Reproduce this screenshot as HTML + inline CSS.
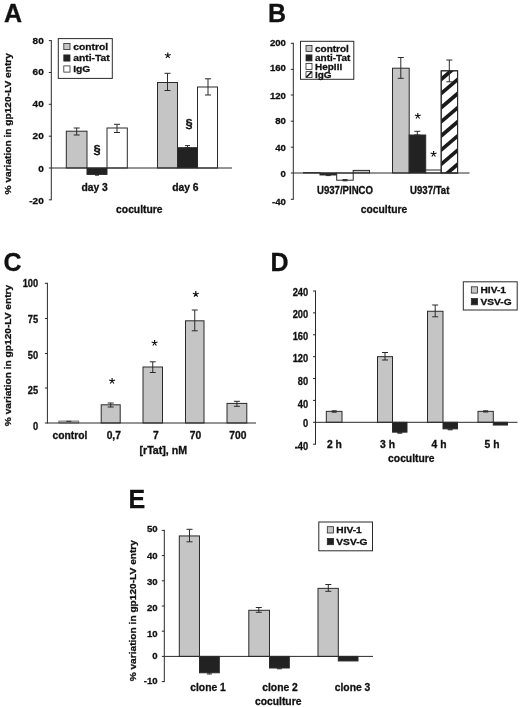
<!DOCTYPE html>
<html><head><meta charset="utf-8"><title>Figure</title>
<style>
html,body{margin:0;padding:0;background:#fff;}
body{width:520px;height:707px;overflow:hidden;}
svg{display:block;filter:blur(0.3px);}
svg text{font-family:"Liberation Sans",sans-serif;font-weight:bold;fill:#111;stroke:#111;stroke-width:0.3px;}
</style></head><body>
<svg width="520" height="707" viewBox="0 0 520 707">
<rect width="520" height="707" fill="#fff"/>
<text x="4.0" y="22.20" font-size="25" text-anchor="start" stroke="#111" stroke-width="0.7">A</text>
<line x1="51.3" y1="40.1" x2="51.3" y2="200.3" stroke="#2a2a2a" stroke-width="1"/>
<line x1="48.8" y1="40.6" x2="51.3" y2="40.6" stroke="#2a2a2a" stroke-width="1"/>
<text transform="translate(43.7,43.70) scale(1,0.92)" font-size="10" text-anchor="end" >80</text>
<line x1="48.8" y1="72.5" x2="51.3" y2="72.5" stroke="#2a2a2a" stroke-width="1"/>
<text transform="translate(43.7,74.60) scale(1,0.92)" font-size="10" text-anchor="end" >60</text>
<line x1="48.8" y1="104.3" x2="51.3" y2="104.3" stroke="#2a2a2a" stroke-width="1"/>
<text transform="translate(43.7,106.90) scale(1,0.92)" font-size="10" text-anchor="end" >40</text>
<line x1="48.8" y1="136.2" x2="51.3" y2="136.2" stroke="#2a2a2a" stroke-width="1"/>
<text transform="translate(43.7,138.80) scale(1,0.92)" font-size="10" text-anchor="end" >20</text>
<line x1="48.8" y1="168" x2="51.3" y2="168" stroke="#2a2a2a" stroke-width="1"/>
<text transform="translate(43.7,172.10) scale(1,0.92)" font-size="10" text-anchor="end" >0</text>
<line x1="48.8" y1="199.8" x2="51.3" y2="199.8" stroke="#2a2a2a" stroke-width="1"/>
<text transform="translate(43.7,204.10) scale(1,0.92)" font-size="10" text-anchor="end" >-20</text>
<rect x="66.30" y="131.20" width="20.70" height="36.80" fill="#c5c5c5" stroke="#2a2a2a" stroke-width="1"/>
<rect x="87.00" y="168.00" width="20.00" height="6.40" fill="#222" stroke="#2a2a2a" stroke-width="1"/>
<rect x="107.00" y="128.00" width="20.30" height="40.00" fill="#fff" stroke="#2a2a2a" stroke-width="1"/>
<line x1="76.7" y1="128" x2="76.7" y2="135" stroke="#2a2a2a" stroke-width="1"/>
<line x1="73.7" y1="128" x2="79.7" y2="128" stroke="#2a2a2a" stroke-width="1"/>
<line x1="73.7" y1="135" x2="79.7" y2="135" stroke="#2a2a2a" stroke-width="1"/>
<line x1="117" y1="124.3" x2="117" y2="132.5" stroke="#2a2a2a" stroke-width="1"/>
<line x1="114" y1="124.3" x2="120" y2="124.3" stroke="#2a2a2a" stroke-width="1"/>
<line x1="114" y1="132.5" x2="120" y2="132.5" stroke="#2a2a2a" stroke-width="1"/>
<line x1="97" y1="174.4" x2="97" y2="175.2" stroke="#2a2a2a" stroke-width="1"/>
<line x1="95" y1="174.4" x2="99" y2="174.4" stroke="#2a2a2a" stroke-width="1"/>
<line x1="95" y1="175.2" x2="99" y2="175.2" stroke="#2a2a2a" stroke-width="1"/>
<rect x="157.50" y="82.50" width="20.00" height="85.50" fill="#c5c5c5" stroke="#2a2a2a" stroke-width="1"/>
<rect x="177.50" y="147.70" width="20.00" height="20.30" fill="#222" stroke="#2a2a2a" stroke-width="1"/>
<rect x="197.50" y="87.00" width="20.00" height="81.00" fill="#fff" stroke="#2a2a2a" stroke-width="1"/>
<line x1="167.5" y1="73.3" x2="167.5" y2="90.5" stroke="#2a2a2a" stroke-width="1"/>
<line x1="164.5" y1="73.3" x2="170.5" y2="73.3" stroke="#2a2a2a" stroke-width="1"/>
<line x1="164.5" y1="90.5" x2="170.5" y2="90.5" stroke="#2a2a2a" stroke-width="1"/>
<line x1="208" y1="78.8" x2="208" y2="95" stroke="#2a2a2a" stroke-width="1"/>
<line x1="205" y1="78.8" x2="211" y2="78.8" stroke="#2a2a2a" stroke-width="1"/>
<line x1="205" y1="95" x2="211" y2="95" stroke="#2a2a2a" stroke-width="1"/>
<line x1="187.5" y1="145.6" x2="187.5" y2="147.7" stroke="#2a2a2a" stroke-width="1"/>
<line x1="185.0" y1="145.6" x2="190.0" y2="145.6" stroke="#2a2a2a" stroke-width="1"/>
<line x1="185.0" y1="147.7" x2="190.0" y2="147.7" stroke="#2a2a2a" stroke-width="1"/>
<line x1="51.3" y1="168" x2="232" y2="168" stroke="#2a2a2a" stroke-width="1"/>
<path d="M167.80,55.50L167.80,52.40M167.80,55.50L170.75,54.54M167.80,55.50L169.62,58.01M167.80,55.50L165.98,58.01M167.80,55.50L164.85,54.54" stroke="#111" stroke-width="1.15" fill="none" stroke-linecap="butt"/>
<text transform="translate(97,153.50) scale(0.92,0.92)" font-size="14" text-anchor="middle" stroke="none">§</text>
<text transform="translate(189,128.30) scale(0.92,0.92)" font-size="14" text-anchor="middle" stroke="none">§</text>
<text x="94.7" y="190.70" font-size="10.3" text-anchor="middle" >day 3</text>
<text x="185.3" y="190.70" font-size="10.3" text-anchor="middle" >day 6</text>
<text x="139.3" y="213.00" font-size="10.3" text-anchor="middle" >coculture</text>
<text transform="translate(11.2,123.8) rotate(-90) scale(1,0.93)" font-size="10.15" text-anchor="middle" >% variation in gp120-LV entry</text>
<rect x="58.30" y="38.60" width="54.00" height="39.80" fill="#fff" stroke="#2a2a2a" stroke-width="1"/>
<rect x="63.80" y="43.40" width="6.20" height="6.20" fill="#c5c5c5" stroke="#2a2a2a" stroke-width="0.8"/>
<text transform="translate(73.2,49.60) scale(1.03,0.92)" font-size="10" text-anchor="start" >control</text>
<rect x="63.80" y="54.90" width="6.20" height="6.20" fill="#222" stroke="#2a2a2a" stroke-width="0.8"/>
<text transform="translate(73.2,61.10) scale(1.03,0.92)" font-size="10" text-anchor="start" >anti-Tat</text>
<rect x="63.80" y="65.90" width="6.20" height="6.20" fill="#fff" stroke="#2a2a2a" stroke-width="0.8"/>
<text transform="translate(73.2,72.10) scale(1.03,0.92)" font-size="10" text-anchor="start" >IgG</text>
<text x="268" y="22.20" font-size="25" text-anchor="start" stroke="#111" stroke-width="0.7">B</text>
<line x1="293.3" y1="42.8" x2="293.3" y2="199.8" stroke="#2a2a2a" stroke-width="1"/>
<line x1="290.8" y1="43.3" x2="293.3" y2="43.3" stroke="#2a2a2a" stroke-width="1"/>
<text transform="translate(285.9,45.60) scale(0.96,0.92)" font-size="10" text-anchor="end" >200</text>
<line x1="290.8" y1="69.4" x2="293.3" y2="69.4" stroke="#2a2a2a" stroke-width="1"/>
<text transform="translate(285.9,71.45) scale(0.96,0.92)" font-size="10" text-anchor="end" >160</text>
<line x1="290.8" y1="95" x2="293.3" y2="95" stroke="#2a2a2a" stroke-width="1"/>
<text transform="translate(285.9,98.60) scale(0.96,0.92)" font-size="10" text-anchor="end" >120</text>
<line x1="290.8" y1="121.2" x2="293.3" y2="121.2" stroke="#2a2a2a" stroke-width="1"/>
<text transform="translate(285.9,124.45) scale(0.96,0.92)" font-size="10" text-anchor="end" >80</text>
<line x1="290.8" y1="147.2" x2="293.3" y2="147.2" stroke="#2a2a2a" stroke-width="1"/>
<text transform="translate(285.9,150.60) scale(0.96,0.92)" font-size="10" text-anchor="end" >40</text>
<line x1="290.8" y1="173" x2="293.3" y2="173" stroke="#2a2a2a" stroke-width="1"/>
<text transform="translate(285.9,176.65) scale(0.96,0.92)" font-size="10" text-anchor="end" >0</text>
<line x1="290.8" y1="199.3" x2="293.3" y2="199.3" stroke="#2a2a2a" stroke-width="1"/>
<text transform="translate(285.9,204.50) scale(0.96,0.92)" font-size="10" text-anchor="end" >-40</text>
<rect x="303.50" y="172.60" width="16.50" height="0.40" fill="#c5c5c5" stroke="#2a2a2a" stroke-width="1"/>
<rect x="320.00" y="173.00" width="16.70" height="1.97" fill="#222" stroke="#2a2a2a" stroke-width="1"/>
<rect x="336.70" y="173.00" width="16.50" height="7.21" fill="#fff" stroke="#2a2a2a" stroke-width="1"/>
<rect x="353.20" y="170.38" width="16.30" height="2.62" fill="#c5c5c5" stroke="#2a2a2a" stroke-width="1"/>
<line x1="328.3" y1="174.6" x2="328.3" y2="175.6" stroke="#2a2a2a" stroke-width="1"/>
<line x1="325.8" y1="174.6" x2="330.8" y2="174.6" stroke="#2a2a2a" stroke-width="1"/>
<line x1="325.8" y1="175.6" x2="330.8" y2="175.6" stroke="#2a2a2a" stroke-width="1"/>
<line x1="345" y1="179.6" x2="345" y2="180.8" stroke="#2a2a2a" stroke-width="1"/>
<line x1="342.5" y1="179.6" x2="347.5" y2="179.6" stroke="#2a2a2a" stroke-width="1"/>
<line x1="342.5" y1="180.8" x2="347.5" y2="180.8" stroke="#2a2a2a" stroke-width="1"/>
<rect x="392.50" y="68.20" width="16.70" height="104.80" fill="#c5c5c5" stroke="#2a2a2a" stroke-width="1"/>
<rect x="409.20" y="135.00" width="16.50" height="38.00" fill="#222" stroke="#2a2a2a" stroke-width="1"/>
<rect x="425.70" y="170.00" width="15.50" height="3.00" fill="#fff" stroke="#2a2a2a" stroke-width="1"/>
<rect x="441.20" y="70.80" width="16.40" height="102.20" fill="#fff" stroke="#2a2a2a" stroke-width="1"/>
<clipPath id="hc"><rect x="441.2" y="70.8" width="16.4" height="102.2"/></clipPath><g clip-path="url(#hc)" stroke="#1a1a1a" stroke-width="3.7">
<line x1="432.9" y1="72.23" x2="466.1" y2="43.95"/>
<line x1="432.9" y1="86.37" x2="466.1" y2="58.09"/>
<line x1="432.9" y1="100.51" x2="466.1" y2="72.23"/>
<line x1="432.9" y1="114.65" x2="466.1" y2="86.37"/>
<line x1="432.9" y1="128.79" x2="466.1" y2="100.51"/>
<line x1="432.9" y1="142.93" x2="466.1" y2="114.65"/>
<line x1="432.9" y1="157.07" x2="466.1" y2="128.79"/>
<line x1="432.9" y1="171.21" x2="466.1" y2="142.93"/>
<line x1="432.9" y1="185.35" x2="466.1" y2="157.07"/>
<line x1="432.9" y1="199.49" x2="466.1" y2="171.21"/>
</g>
<rect x="441.20" y="70.80" width="16.40" height="102.20" fill="none" stroke="#2a2a2a" stroke-width="1"/>
<line x1="400.8" y1="57.5" x2="400.8" y2="78.3" stroke="#2a2a2a" stroke-width="1"/>
<line x1="397.8" y1="57.5" x2="403.8" y2="57.5" stroke="#2a2a2a" stroke-width="1"/>
<line x1="397.8" y1="78.3" x2="403.8" y2="78.3" stroke="#2a2a2a" stroke-width="1"/>
<line x1="449.3" y1="60" x2="449.3" y2="81.8" stroke="#2a2a2a" stroke-width="1"/>
<line x1="446.3" y1="60" x2="452.3" y2="60" stroke="#2a2a2a" stroke-width="1"/>
<line x1="446.3" y1="81.8" x2="452.3" y2="81.8" stroke="#2a2a2a" stroke-width="1"/>
<line x1="417.3" y1="131.3" x2="417.3" y2="135" stroke="#2a2a2a" stroke-width="1"/>
<line x1="414.3" y1="131.3" x2="420.3" y2="131.3" stroke="#2a2a2a" stroke-width="1"/>
<line x1="414.3" y1="135" x2="420.3" y2="135" stroke="#2a2a2a" stroke-width="1"/>
<line x1="293.3" y1="173" x2="469.5" y2="173" stroke="#2a2a2a" stroke-width="1"/>
<path d="M417.80,116.00L417.80,112.90M417.80,116.00L420.75,115.04M417.80,116.00L419.62,118.51M417.80,116.00L415.98,118.51M417.80,116.00L414.85,115.04" stroke="#111" stroke-width="1.15" fill="none" stroke-linecap="butt"/>
<path d="M433.60,154.00L433.60,150.90M433.60,154.00L436.55,153.04M433.60,154.00L435.42,156.51M433.60,154.00L431.78,156.51M433.60,154.00L430.65,153.04" stroke="#111" stroke-width="1.15" fill="none" stroke-linecap="butt"/>
<text transform="translate(345,193.80) scale(0.96,1)" font-size="10" text-anchor="middle" >U937/PINCO</text>
<text transform="translate(429.7,193.80) scale(0.96,1)" font-size="10" text-anchor="middle" >U937/Tat</text>
<text x="384" y="213.00" font-size="10.3" text-anchor="middle" >coculture</text>
<rect x="300.50" y="41.30" width="53.30" height="38.00" fill="#fff" stroke="#2a2a2a" stroke-width="1"/>
<rect x="306.00" y="45.50" width="6.00" height="6.00" fill="#c5c5c5" stroke="#2a2a2a" stroke-width="0.8"/>
<text transform="translate(315,51.50) scale(1.0,0.9)" font-size="10" text-anchor="start" >control</text>
<rect x="306.00" y="54.90" width="6.00" height="6.00" fill="#222" stroke="#2a2a2a" stroke-width="0.8"/>
<text transform="translate(315,60.90) scale(1.0,0.9)" font-size="10" text-anchor="start" >anti-Tat</text>
<rect x="306.00" y="63.50" width="6.00" height="6.00" fill="#fff" stroke="#2a2a2a" stroke-width="0.8"/>
<text transform="translate(315,69.50) scale(1.0,0.9)" font-size="10" text-anchor="start" >HepIII</text>
<rect x="306.00" y="71.60" width="6.00" height="6.00" fill="#fff" stroke="#2a2a2a" stroke-width="0.8"/>
<line x1="306.3" y1="77.3" x2="311.7" y2="71.89999999999999" stroke="#1a1a1a" stroke-width="1.6"/>
<text transform="translate(315,77.60) scale(1.0,0.9)" font-size="10" text-anchor="start" >IgG</text>
<text x="3.5" y="271.40" font-size="25" text-anchor="start" stroke="#111" stroke-width="0.7">C</text>
<line x1="47.4" y1="282.8" x2="47.4" y2="423.5" stroke="#2a2a2a" stroke-width="1"/>
<line x1="44.9" y1="283.3" x2="47.4" y2="283.3" stroke="#2a2a2a" stroke-width="1"/>
<text transform="translate(38.2,287.40) scale(0.93,1)" font-size="10" text-anchor="end" >100</text>
<line x1="44.9" y1="318.5" x2="47.4" y2="318.5" stroke="#2a2a2a" stroke-width="1"/>
<text transform="translate(38.2,323.40) scale(0.93,1)" font-size="10" text-anchor="end" >75</text>
<line x1="44.9" y1="353.5" x2="47.4" y2="353.5" stroke="#2a2a2a" stroke-width="1"/>
<text transform="translate(38.2,359.10) scale(0.93,1)" font-size="10" text-anchor="end" >50</text>
<line x1="44.9" y1="388" x2="47.4" y2="388" stroke="#2a2a2a" stroke-width="1"/>
<text transform="translate(38.2,394.20) scale(0.93,1)" font-size="10" text-anchor="end" >25</text>
<line x1="44.9" y1="423" x2="47.4" y2="423" stroke="#2a2a2a" stroke-width="1"/>
<text transform="translate(38.2,430.10) scale(0.93,1)" font-size="10" text-anchor="end" >0</text>
<rect x="58.80" y="421.00" width="20.00" height="2.00" fill="#c5c5c5" stroke="#555" stroke-width="0.7"/>
<line x1="66.3" y1="421.3" x2="71.3" y2="421.3" stroke="#2a2a2a" stroke-width="1"/>
<rect x="101.20" y="404.80" width="19.00" height="18.20" fill="#c5c5c5" stroke="#2a2a2a" stroke-width="1"/>
<line x1="110.7" y1="403" x2="110.7" y2="407" stroke="#2a2a2a" stroke-width="1"/>
<line x1="107.7" y1="403" x2="113.7" y2="403" stroke="#2a2a2a" stroke-width="1"/>
<line x1="107.7" y1="407" x2="113.7" y2="407" stroke="#2a2a2a" stroke-width="1"/>
<rect x="143.00" y="367.00" width="19.50" height="56.00" fill="#c5c5c5" stroke="#2a2a2a" stroke-width="1"/>
<line x1="152.75" y1="361.8" x2="152.75" y2="372.5" stroke="#2a2a2a" stroke-width="1"/>
<line x1="149.75" y1="361.8" x2="155.75" y2="361.8" stroke="#2a2a2a" stroke-width="1"/>
<line x1="149.75" y1="372.5" x2="155.75" y2="372.5" stroke="#2a2a2a" stroke-width="1"/>
<rect x="185.50" y="320.80" width="18.50" height="102.20" fill="#c5c5c5" stroke="#2a2a2a" stroke-width="1"/>
<line x1="194.75" y1="310" x2="194.75" y2="330.8" stroke="#2a2a2a" stroke-width="1"/>
<line x1="191.75" y1="310" x2="197.75" y2="310" stroke="#2a2a2a" stroke-width="1"/>
<line x1="191.75" y1="330.8" x2="197.75" y2="330.8" stroke="#2a2a2a" stroke-width="1"/>
<rect x="227.00" y="403.40" width="19.80" height="19.60" fill="#c5c5c5" stroke="#2a2a2a" stroke-width="1"/>
<line x1="236.9" y1="401.3" x2="236.9" y2="406.3" stroke="#2a2a2a" stroke-width="1"/>
<line x1="233.9" y1="401.3" x2="239.9" y2="401.3" stroke="#2a2a2a" stroke-width="1"/>
<line x1="233.9" y1="406.3" x2="239.9" y2="406.3" stroke="#2a2a2a" stroke-width="1"/>
<line x1="47.4" y1="423" x2="256" y2="423" stroke="#2a2a2a" stroke-width="1"/>
<path d="M112.10,381.00L112.10,377.90M112.10,381.00L115.05,380.04M112.10,381.00L113.92,383.51M112.10,381.00L110.28,383.51M112.10,381.00L109.15,380.04" stroke="#111" stroke-width="1.15" fill="none" stroke-linecap="butt"/>
<path d="M154.60,343.00L154.60,339.90M154.60,343.00L157.55,342.04M154.60,343.00L156.42,345.51M154.60,343.00L152.78,345.51M154.60,343.00L151.65,342.04" stroke="#111" stroke-width="1.15" fill="none" stroke-linecap="butt"/>
<path d="M195.80,294.20L195.80,291.10M195.80,294.20L198.75,293.24M195.80,294.20L197.62,296.71M195.80,294.20L193.98,296.71M195.80,294.20L192.85,293.24" stroke="#111" stroke-width="1.15" fill="none" stroke-linecap="butt"/>
<text x="70" y="438.80" font-size="10.3" text-anchor="middle" >control</text>
<text x="113.8" y="438.80" font-size="10.3" text-anchor="middle" >0,7</text>
<text x="155.8" y="438.80" font-size="10.3" text-anchor="middle" >7</text>
<text x="195.6" y="438.80" font-size="10.3" text-anchor="middle" >70</text>
<text x="237.8" y="438.80" font-size="10.3" text-anchor="middle" >700</text>
<text transform="translate(163.3,454.30) scale(1.035,1)" font-size="10.3" text-anchor="middle" >[rTat], nM</text>
<text transform="translate(11.2,355.5) rotate(-90) scale(1,0.93)" font-size="10.15" text-anchor="middle" >% variation in gp120-LV entry</text>
<text x="270.6" y="271.40" font-size="25" text-anchor="start" stroke="#111" stroke-width="0.7">D</text>
<line x1="315.5" y1="290.52" x2="315.5" y2="444.68" stroke="#2a2a2a" stroke-width="1"/>
<line x1="313.0" y1="291.02" x2="315.5" y2="291.02" stroke="#2a2a2a" stroke-width="1"/>
<text transform="translate(308.2,295.72) scale(0.93,1)" font-size="10" text-anchor="end" >240</text>
<line x1="313.0" y1="312.9" x2="315.5" y2="312.9" stroke="#2a2a2a" stroke-width="1"/>
<text transform="translate(308.2,317.70) scale(0.93,1)" font-size="10" text-anchor="end" >200</text>
<line x1="313.0" y1="334.78" x2="315.5" y2="334.78" stroke="#2a2a2a" stroke-width="1"/>
<text transform="translate(308.2,340.38) scale(0.93,1)" font-size="10" text-anchor="end" >160</text>
<line x1="313.0" y1="356.66" x2="315.5" y2="356.66" stroke="#2a2a2a" stroke-width="1"/>
<text transform="translate(308.2,362.46) scale(0.93,1)" font-size="10" text-anchor="end" >120</text>
<line x1="313.0" y1="378.54" x2="315.5" y2="378.54" stroke="#2a2a2a" stroke-width="1"/>
<text transform="translate(308.2,385.14) scale(0.93,1)" font-size="10" text-anchor="end" >80</text>
<line x1="313.0" y1="400.42" x2="315.5" y2="400.42" stroke="#2a2a2a" stroke-width="1"/>
<text transform="translate(308.2,407.82) scale(0.93,1)" font-size="10" text-anchor="end" >40</text>
<line x1="313.0" y1="422.3" x2="315.5" y2="422.3" stroke="#2a2a2a" stroke-width="1"/>
<text transform="translate(308.2,427.00) scale(0.93,1)" font-size="10" text-anchor="end" >0</text>
<line x1="313.0" y1="444.18" x2="315.5" y2="444.18" stroke="#2a2a2a" stroke-width="1"/>
<text transform="translate(308.2,449.68) scale(0.93,1)" font-size="10" text-anchor="end" >-40</text>
<rect x="326.30" y="411.36" width="15.70" height="10.94" fill="#c5c5c5" stroke="#2a2a2a" stroke-width="1"/>
<line x1="334.2" y1="410.8" x2="334.2" y2="412.2" stroke="#2a2a2a" stroke-width="1"/>
<line x1="331.7" y1="410.8" x2="336.7" y2="410.8" stroke="#2a2a2a" stroke-width="1"/>
<line x1="331.7" y1="412.2" x2="336.7" y2="412.2" stroke="#2a2a2a" stroke-width="1"/>
<rect x="377.50" y="356.66" width="15.00" height="65.64" fill="#c5c5c5" stroke="#2a2a2a" stroke-width="1"/>
<line x1="385" y1="352.5" x2="385" y2="360" stroke="#2a2a2a" stroke-width="1"/>
<line x1="382" y1="352.5" x2="388" y2="352.5" stroke="#2a2a2a" stroke-width="1"/>
<line x1="382" y1="360" x2="388" y2="360" stroke="#2a2a2a" stroke-width="1"/>
<rect x="392.50" y="422.30" width="14.50" height="9.85" fill="#222" stroke="#2a2a2a" stroke-width="1"/>
<line x1="399.8" y1="432.3" x2="399.8" y2="433.2" stroke="#2a2a2a" stroke-width="1"/>
<line x1="397.3" y1="432.3" x2="402.3" y2="432.3" stroke="#2a2a2a" stroke-width="1"/>
<line x1="397.3" y1="433.2" x2="402.3" y2="433.2" stroke="#2a2a2a" stroke-width="1"/>
<rect x="427.50" y="311.26" width="15.50" height="111.04" fill="#c5c5c5" stroke="#2a2a2a" stroke-width="1"/>
<line x1="435.2" y1="305" x2="435.2" y2="316.8" stroke="#2a2a2a" stroke-width="1"/>
<line x1="432.2" y1="305" x2="438.2" y2="305" stroke="#2a2a2a" stroke-width="1"/>
<line x1="432.2" y1="316.8" x2="438.2" y2="316.8" stroke="#2a2a2a" stroke-width="1"/>
<rect x="443.00" y="422.30" width="14.50" height="6.56" fill="#222" stroke="#2a2a2a" stroke-width="1"/>
<line x1="450.2" y1="429" x2="450.2" y2="429.8" stroke="#2a2a2a" stroke-width="1"/>
<line x1="447.7" y1="429" x2="452.7" y2="429" stroke="#2a2a2a" stroke-width="1"/>
<line x1="447.7" y1="429.8" x2="452.7" y2="429.8" stroke="#2a2a2a" stroke-width="1"/>
<rect x="478.00" y="411.36" width="15.30" height="10.94" fill="#c5c5c5" stroke="#2a2a2a" stroke-width="1"/>
<line x1="485.6" y1="410.8" x2="485.6" y2="412" stroke="#2a2a2a" stroke-width="1"/>
<line x1="483.1" y1="410.8" x2="488.1" y2="410.8" stroke="#2a2a2a" stroke-width="1"/>
<line x1="483.1" y1="412" x2="488.1" y2="412" stroke="#2a2a2a" stroke-width="1"/>
<rect x="493.30" y="422.30" width="14.20" height="2.74" fill="#222" stroke="#2a2a2a" stroke-width="1"/>
<line x1="315.5" y1="422.3" x2="517.5" y2="422.3" stroke="#2a2a2a" stroke-width="1"/>
<text x="334.4" y="447.50" font-size="10.3" text-anchor="middle" >2 h</text>
<text x="387.5" y="447.50" font-size="10.3" text-anchor="middle" >3 h</text>
<text x="439" y="447.50" font-size="10.3" text-anchor="middle" >4 h</text>
<text x="492" y="447.50" font-size="10.3" text-anchor="middle" >5 h</text>
<text x="411.3" y="462.00" font-size="10.3" text-anchor="middle" >coculture</text>
<rect x="463.30" y="281.80" width="53.90" height="28.20" fill="#fff" stroke="#2a2a2a" stroke-width="1"/>
<rect x="471.30" y="286.80" width="6.30" height="6.30" fill="#c5c5c5" stroke="#2a2a2a" stroke-width="0.8"/>
<text transform="translate(480.5,293.00) scale(1.02,0.92)" font-size="10" text-anchor="start" >HIV-1</text>
<rect x="471.30" y="298.50" width="6.30" height="6.30" fill="#222" stroke="#2a2a2a" stroke-width="0.8"/>
<text transform="translate(480.5,304.70) scale(1.02,0.92)" font-size="10" text-anchor="start" >VSV-G</text>
<text x="128.5" y="508.00" font-size="25" text-anchor="start" stroke="#111" stroke-width="0.7">E</text>
<line x1="164.3" y1="529.9" x2="164.3" y2="682.1" stroke="#2a2a2a" stroke-width="1"/>
<line x1="161.8" y1="530.4" x2="164.3" y2="530.4" stroke="#2a2a2a" stroke-width="1"/>
<text transform="translate(157.7,532.10) scale(0.96,0.87)" font-size="10" text-anchor="end" >50</text>
<line x1="161.8" y1="555.6" x2="164.3" y2="555.6" stroke="#2a2a2a" stroke-width="1"/>
<text transform="translate(157.7,558.65) scale(0.96,0.87)" font-size="10" text-anchor="end" >40</text>
<line x1="161.8" y1="580.8" x2="164.3" y2="580.8" stroke="#2a2a2a" stroke-width="1"/>
<text transform="translate(157.7,584.60) scale(0.96,0.87)" font-size="10" text-anchor="end" >30</text>
<line x1="161.8" y1="606.0" x2="164.3" y2="606.0" stroke="#2a2a2a" stroke-width="1"/>
<text transform="translate(157.7,610.60) scale(0.96,0.87)" font-size="10" text-anchor="end" >20</text>
<line x1="161.8" y1="631.1999999999999" x2="164.3" y2="631.1999999999999" stroke="#2a2a2a" stroke-width="1"/>
<text transform="translate(157.7,636.80) scale(0.96,0.87)" font-size="10" text-anchor="end" >10</text>
<line x1="161.8" y1="656.4" x2="164.3" y2="656.4" stroke="#2a2a2a" stroke-width="1"/>
<text transform="translate(157.7,659.40) scale(0.96,0.87)" font-size="10" text-anchor="end" >0</text>
<line x1="161.8" y1="681.6" x2="164.3" y2="681.6" stroke="#2a2a2a" stroke-width="1"/>
<text transform="translate(157.7,684.20) scale(0.96,0.87)" font-size="10" text-anchor="end" >-10</text>
<rect x="179.30" y="535.94" width="20.20" height="120.46" fill="#c5c5c5" stroke="#2a2a2a" stroke-width="1"/>
<line x1="189.5" y1="529.3" x2="189.5" y2="541.8" stroke="#2a2a2a" stroke-width="1"/>
<line x1="186.5" y1="529.3" x2="192.5" y2="529.3" stroke="#2a2a2a" stroke-width="1"/>
<line x1="186.5" y1="541.8" x2="192.5" y2="541.8" stroke="#2a2a2a" stroke-width="1"/>
<rect x="199.50" y="656.40" width="19.80" height="16.38" fill="#222" stroke="#2a2a2a" stroke-width="1"/>
<line x1="209.4" y1="672.6" x2="209.4" y2="674" stroke="#2a2a2a" stroke-width="1"/>
<line x1="206.9" y1="672.6" x2="211.9" y2="672.6" stroke="#2a2a2a" stroke-width="1"/>
<line x1="206.9" y1="674" x2="211.9" y2="674" stroke="#2a2a2a" stroke-width="1"/>
<rect x="248.80" y="610.28" width="20.70" height="46.12" fill="#c5c5c5" stroke="#2a2a2a" stroke-width="1"/>
<line x1="258.8" y1="607.5" x2="258.8" y2="612.3" stroke="#2a2a2a" stroke-width="1"/>
<line x1="255.8" y1="607.5" x2="261.8" y2="607.5" stroke="#2a2a2a" stroke-width="1"/>
<line x1="255.8" y1="612.3" x2="261.8" y2="612.3" stroke="#2a2a2a" stroke-width="1"/>
<rect x="269.50" y="656.40" width="19.80" height="11.59" fill="#222" stroke="#2a2a2a" stroke-width="1"/>
<line x1="279.4" y1="667.8" x2="279.4" y2="668.8" stroke="#2a2a2a" stroke-width="1"/>
<line x1="276.9" y1="667.8" x2="281.9" y2="667.8" stroke="#2a2a2a" stroke-width="1"/>
<line x1="276.9" y1="668.8" x2="281.9" y2="668.8" stroke="#2a2a2a" stroke-width="1"/>
<rect x="318.00" y="588.36" width="20.30" height="68.04" fill="#c5c5c5" stroke="#2a2a2a" stroke-width="1"/>
<line x1="328.3" y1="584.5" x2="328.3" y2="591.3" stroke="#2a2a2a" stroke-width="1"/>
<line x1="325.3" y1="584.5" x2="331.3" y2="584.5" stroke="#2a2a2a" stroke-width="1"/>
<line x1="325.3" y1="591.3" x2="331.3" y2="591.3" stroke="#2a2a2a" stroke-width="1"/>
<rect x="338.30" y="656.40" width="19.70" height="4.54" fill="#222" stroke="#2a2a2a" stroke-width="1"/>
<line x1="164.3" y1="656.4" x2="373" y2="656.4" stroke="#2a2a2a" stroke-width="1"/>
<text x="208" y="691.30" font-size="10.3" text-anchor="middle" >clone 1</text>
<text x="280" y="691.30" font-size="10.3" text-anchor="middle" >clone 2</text>
<text x="352.5" y="691.30" font-size="10.3" text-anchor="middle" >clone 3</text>
<text x="278.2" y="705.00" font-size="10.3" text-anchor="middle" >coculture</text>
<text transform="translate(135.8,610.7) rotate(-90) scale(1,0.93)" font-size="10.15" text-anchor="middle" >% variation in gp120-LV entry</text>
<rect x="318.80" y="522.00" width="53.70" height="28.80" fill="#fff" stroke="#2a2a2a" stroke-width="1"/>
<rect x="327.30" y="526.70" width="6.30" height="6.30" fill="#c5c5c5" stroke="#2a2a2a" stroke-width="0.8"/>
<text transform="translate(336.3,532.90) scale(1.02,0.92)" font-size="10" text-anchor="start" >HIV-1</text>
<rect x="327.30" y="538.40" width="6.30" height="6.30" fill="#222" stroke="#2a2a2a" stroke-width="0.8"/>
<text transform="translate(336.3,544.60) scale(1.02,0.92)" font-size="10" text-anchor="start" >VSV-G</text>
</svg>
</body></html>
